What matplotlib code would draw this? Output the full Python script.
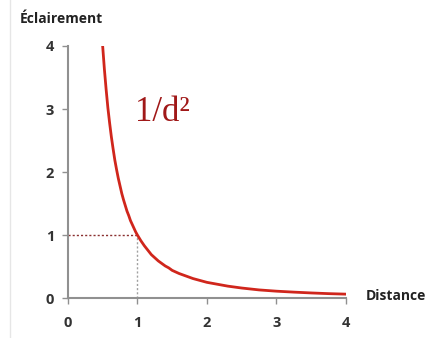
import matplotlib.pyplot as plt
from matplotlib.lines import Line2D

# distance / eclairement
distance = [0.5, 0.525, 0.55, 0.575, 0.6, 0.625, 0.65, 0.675, 0.7, 0.725, 0.75, 0.775, 0.8,
            0.825, 0.85, 0.875, 0.9, 0.925, 0.95, 0.975, 1.0, 1.05, 1.1, 1.15, 1.2, 1.25, 1.3,
            1.35, 1.4, 1.45, 1.5, 1.6, 1.7, 1.8, 1.9, 2.0, 2.15, 2.3, 2.5, 2.75, 3.0, 3.25,
            3.5, 3.75, 4.0]
eclairement = [4.0, 3.63, 3.31, 3.02, 2.78, 2.56, 2.37, 2.19, 2.04, 1.90, 1.78, 1.66, 1.56,
               1.47, 1.38, 1.31, 1.23, 1.17, 1.11, 1.05, 1.0, 0.91, 0.83, 0.76, 0.69, 0.64, 0.59,
               0.55, 0.51, 0.48, 0.44, 0.39, 0.35, 0.31, 0.28, 0.25, 0.22, 0.19, 0.16, 0.13,
               0.11, 0.095, 0.082, 0.071, 0.063]
xticks = [0, 1, 2, 3, 4]
yticks = [0, 1, 2, 3, 4]

fig = plt.figure(figsize=(4.38, 3.38), dpi=100)
ax = fig.add_axes([0.155, 0.118, 0.635, 0.746])

ax.plot(distance, eclairement, color='#d0261c', linewidth=2, solid_joinstyle='round', zorder=3)
ax.plot([0, 1], [1, 1], color='#8a3030', linestyle=(0, (1.5, 1.5)), linewidth=1)
ax.plot([1, 1], [0, 1], color='#a0a0a0', linestyle=(0, (1.5, 1.5)), linewidth=1)

ax.text(1.36, 2.95, '1/d²', family='Liberation Serif', fontsize=25, color='#a01818',
        ha='center', va='center')

ax.set_xlim(0, 4)
ax.set_ylim(0, 4)
ax.set_xticks(xticks)
ax.set_yticks(yticks)
for s in ['top', 'right']:
    ax.spines[s].set_visible(False)
for s in ['left', 'bottom']:
    ax.spines[s].set_color('#909090')
    ax.spines[s].set_linewidth(1.5)
ax.tick_params(colors='#909090', length=4, width=1, labelcolor='#333333', labelsize=10.5)
ax.tick_params(axis='x', pad=9)
ax.tick_params(axis='y', pad=6)
for lab in ax.get_xticklabels() + ax.get_yticklabels():
    lab.set_fontweight('bold')
    lab.set_family('Open Sans')

fig.text(0.045, 0.945, 'Éclairement', family='Open Sans', fontweight='bold', fontsize=10,
         color='#222222', va='center')
fig.text(0.835, 0.123, 'Distance', family='Open Sans', fontweight='bold', fontsize=10,
         color='#222222', va='center')
fig.add_artist(Line2D([0.023, 0.023], [0.0, 1.0], color='#e6e6e6', linewidth=1))

fig.savefig('out.png')
